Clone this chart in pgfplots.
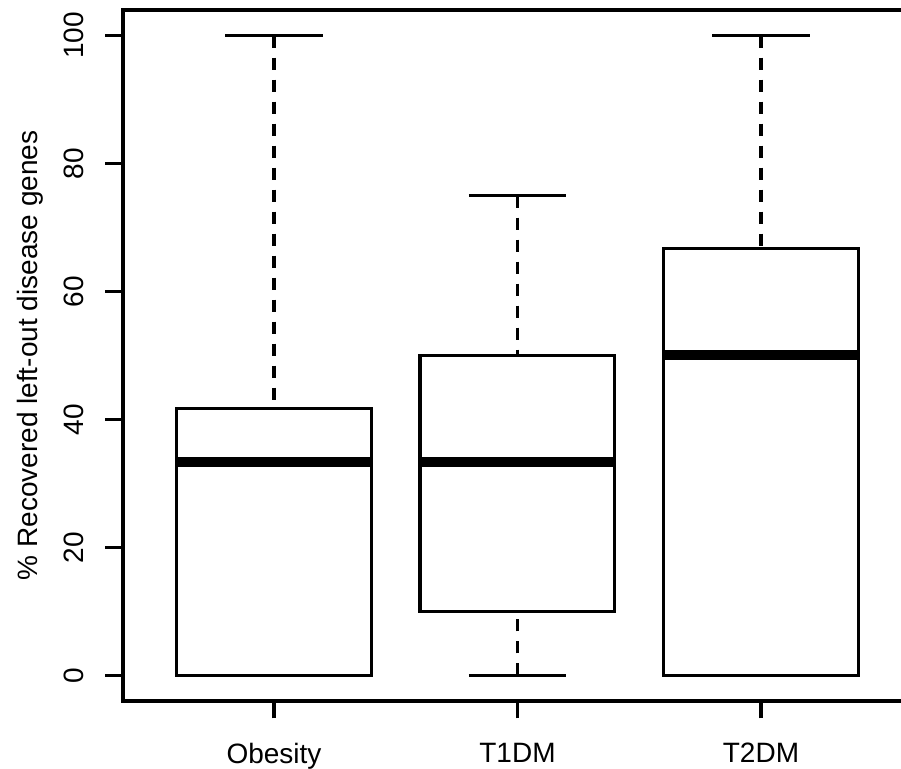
\documentclass[border=0pt]{standalone}
\usepackage{fontspec}
\setmainfont{Liberation Sans}
\usepackage{pgfplots}
\pgfplotsset{compat=1.18}
\usepgfplotslibrary{statistics}
\begin{document}
\fontsize{14}{16}\selectfont
\begin{tikzpicture}
\begin{axis}[
  scale only axis, width=389pt, height=345.5pt,
  xmin=0.38, xmax=3.575, ymin=-4, ymax=104,
  clip=false,
  axis line style={draw=none},
  xtick={1,2,3}, xticklabels={Obesity,T1DM,T2DM},
  ytick={0,20,40,60,80,100},
  tick align=outside, xtick pos=bottom, ytick pos=left,
  major tick length=8.75pt,
  tick style={black, line width=1.6pt},
  /pgf/number format/assume math mode=true,
  ticklabel style={font=\fontsize{14}{16}\selectfont},
  yticklabel style={rotate=90, anchor=south},
  yticklabel shift=6pt,
  xticklabel shift=7.5pt,
  ylabel={\% Recovered left-out disease genes},
  ylabel style={at={(axis description cs:-0.1195,0.5)}, anchor=center, font=\fontsize{14}{16}\selectfont},
  boxplot/draw direction=y,
  boxplot/box extend=0.8,
  boxplot/whisker extend=0.4,
  boxplot/every box/.style={draw=black, line width=1.6pt},
  boxplot/every median/.style={draw=black, line width=5pt},
  boxplot/draw/lower whisker/.code={%
    \draw[black, line width=1.6pt, dash pattern=on 6pt off 5pt] (boxplot cs:\pgfplotsboxplotvalue{lower whisker}) -- (boxplot cs:\pgfplotsboxplotvalue{lower quartile});
    \draw[black, line width=1.6pt] (boxplot whisker cs:\pgfplotsboxplotvalue{lower whisker},0) -- (boxplot whisker cs:\pgfplotsboxplotvalue{lower whisker},1);
  },
  boxplot/draw/upper whisker/.code={%
    \draw[black, line width=1.6pt, dash pattern=on 6pt off 5pt] (boxplot cs:\pgfplotsboxplotvalue{upper whisker}) -- (boxplot cs:\pgfplotsboxplotvalue{upper quartile});
    \draw[black, line width=1.6pt] (boxplot whisker cs:\pgfplotsboxplotvalue{upper whisker},0) -- (boxplot whisker cs:\pgfplotsboxplotvalue{upper whisker},1);
  },
]
\addplot[black, line width=1.6pt, boxplot prepared={draw position=1,
  lower whisker=0, lower quartile=0, median=33.33, upper quartile=41.67, upper whisker=100}] coordinates {};
\addplot[black, line width=1.6pt, boxplot prepared={draw position=2,
  lower whisker=0, lower quartile=10, median=33.33, upper quartile=50, upper whisker=75}] coordinates {};
\addplot[black, line width=1.6pt, boxplot prepared={draw position=3,
  lower whisker=0, lower quartile=0, median=50, upper quartile=66.67, upper whisker=100}] coordinates {};
\draw[line width=1.6pt] (rel axis cs:1,0) -- (rel axis cs:0,0) -- (rel axis cs:0,1) -- (rel axis cs:1,1);
\coordinate (sw) at (rel axis cs:0,0);
\coordinate (ne) at (rel axis cs:1,1);
\end{axis}
\pgfresetboundingbox
\path ([shift={(-61.5pt,-34pt)}]sw) rectangle ([shift={(0pt,5pt)}]ne);
\end{tikzpicture}
\end{document}
